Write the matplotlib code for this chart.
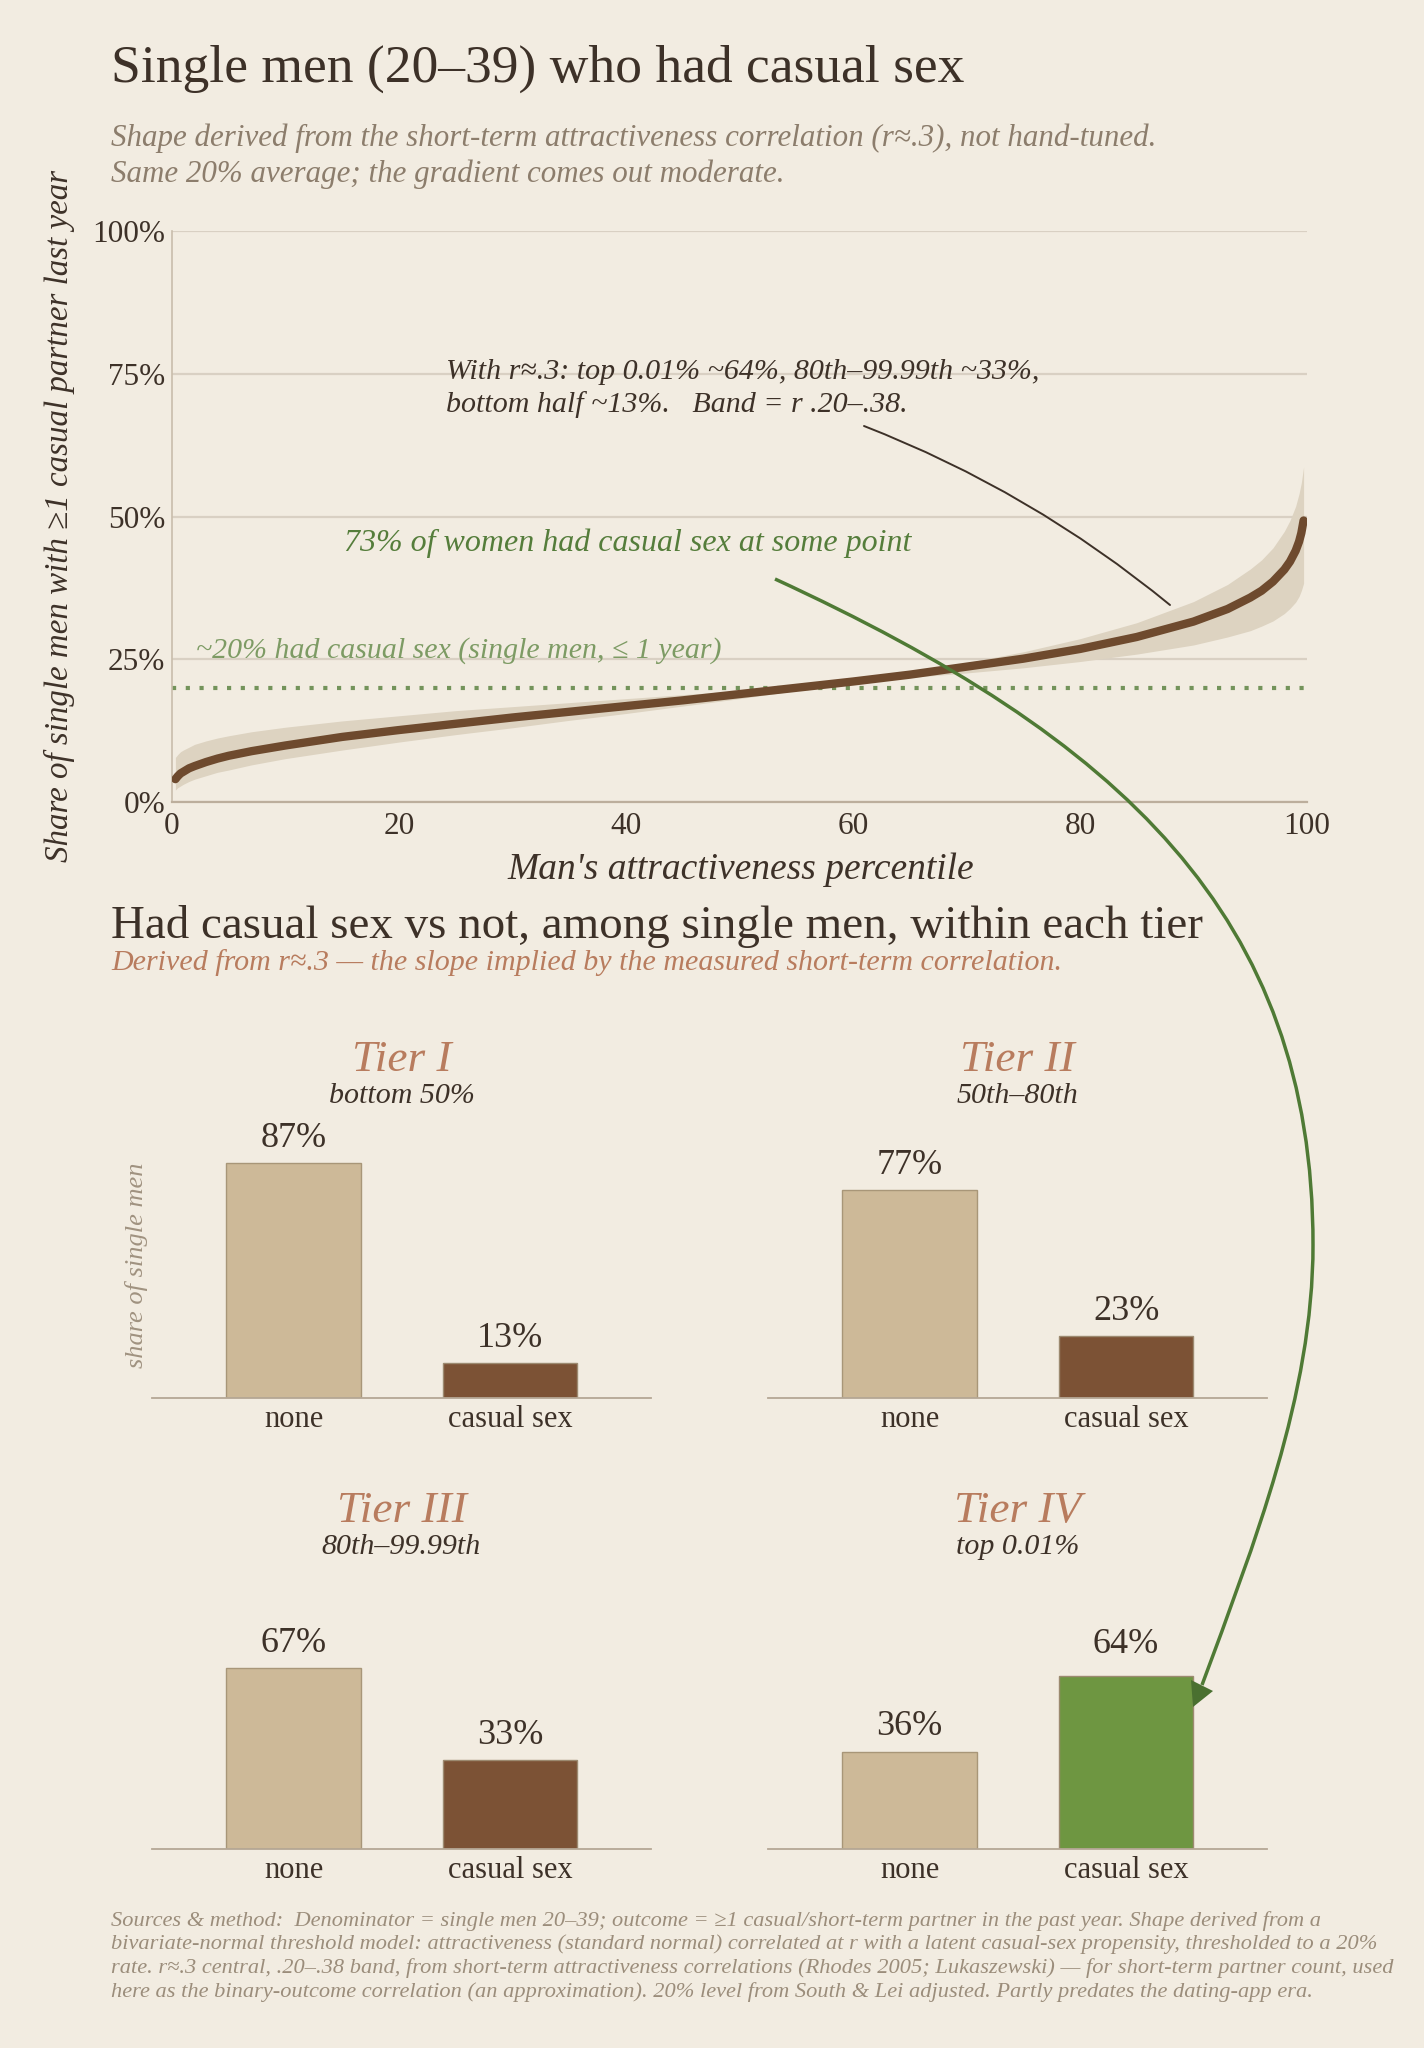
import matplotlib
matplotlib.use("Agg")
import matplotlib.pyplot as plt
from matplotlib.path import Path
from matplotlib.patches import PathPatch, Polygon

plt.rcParams['font.family'] = ['Liberation Serif', 'DejaVu Serif']

# curve (percentile -> % with casual partner)
pct = [0.3, 0.5, 0.75, 1, 1.5, 2, 3, 4, 5, 7, 10, 15, 20, 25, 30, 35, 40, 45, 50,
       55, 60, 65, 70, 75, 80, 85, 90, 93, 95, 96, 97, 98, 98.5, 99, 99.3, 99.5, 99.7]
central = [4.0, 4.5, 5.0, 5.3, 5.9, 6.3, 7.0, 7.6, 8.1, 8.9, 9.9, 11.4, 12.6, 13.7,
           14.8, 15.8, 16.8, 17.8, 18.9, 20.0, 21.1, 22.3, 23.7, 25.1, 26.8, 28.9,
           31.6, 33.8, 35.8, 37.0, 38.6, 40.7, 42.1, 44.0, 45.6, 47.1, 49.3]
band_lo = [2.1, 2.5, 2.8, 3.1, 3.6, 4.0, 4.6, 5.2, 5.6, 6.5, 7.6, 9.1, 10.5, 11.8,
           13.0, 14.3, 15.5, 16.8, 18.1, 19.5, 21.0, 21.8, 22.6, 23.5, 24.6, 25.9,
           27.5, 28.9, 30.0, 30.8, 31.7, 33.0, 33.9, 35.0, 36.0, 37.0, 38.3]
band_hi = [7.8, 8.3, 8.8, 9.1, 9.6, 10.1, 10.7, 11.2, 11.6, 12.3, 13.1, 14.2, 15.1,
           16.0, 16.7, 17.4, 18.1, 18.8, 19.5, 20.2, 21.0, 22.6, 24.4, 26.3, 28.6,
           31.4, 35.1, 38.1, 40.8, 42.4, 44.5, 47.4, 49.3, 51.8, 54.0, 55.9, 58.7]
avg_rate = 20

tiers = ["Tier I", "Tier II", "Tier III", "Tier IV"]
tier_ranges = ["bottom 50%", "50th\u201380th", "80th\u201399.99th", "top 0.01%"]
categories = ["none", "casual sex"]
none_share = [87, 77, 67, 36]
casual_share = [13, 23, 33, 64]

W, H = 1424, 2048
BG = '#f2ece1'
DARK = '#3d3128'
BROWN = '#6e4a2e'
BAND = '#ddd3c1'
GREEN = '#4f7a35'
LGREEN = '#7d9b64'
TERRA = '#b87c5e'
MUTED = '#8c7d6c'
NONE_C = '#cdb998'
CAS_C = '#7c5235'
TOP_C = '#6e9641'


def fx(x):
    return x / W


def fy(y):
    return 1 - y / H


fig = plt.figure(figsize=(W / 100, H / 100), dpi=100, facecolor=BG)

# ---- top chart ----
ax = fig.add_axes([fx(172), fy(802), (1307 - 172) / W, (802 - 231) / H])
ax.set_facecolor(BG)
ax.fill_between(pct, band_lo, band_hi, color=BAND, lw=0, zorder=2)
ax.plot(pct, central, color=BROWN, lw=6, solid_capstyle='round',
        solid_joinstyle='round', zorder=3)
ax.axhline(avg_rate, color='#73935a', lw=3.0, ls=(0, (1, 2.3)), zorder=2)
ax.set_xlim(0, 100)
ax.set_ylim(0, 100)
ax.set_yticks([0, 25, 50, 75, 100])
ax.set_yticklabels(["0%", "25%", "50%", "75%", "100%"])
ax.set_xticks([0, 20, 40, 60, 80, 100])
ax.yaxis.grid(True, color='#d9d0c3', lw=1.6)
ax.set_axisbelow(True)
for s in ['top', 'right']:
    ax.spines[s].set_visible(False)
ax.spines['left'].set_color('#c9bdac')
ax.spines['left'].set_linewidth(1.2)
ax.spines['bottom'].set_color('#bcae9c')
ax.spines['bottom'].set_linewidth(1.6)
ax.tick_params(length=0, labelsize=22.5, colors=DARK, pad=5)
ax.tick_params(axis='x', pad=7)

fig.text(fx(196), fy(651), "~20% had casual sex (single men, \u2264 1 year)", color=LGREEN,
         fontsize=21.5, style='italic', va='center')
fig.text(fx(741), fy(870), "Man's attractiveness percentile", fontsize=27,
         style='italic', color=DARK, ha='center', va='center')
fig.text(fx(59), fy(516), "Share of single men with \u22651 casual partner last year",
         fontsize=23.8, style='italic', color=DARK, rotation=90,
         ha='center', va='center')

# titles
fig.text(fx(111), fy(69), "Single men (20\u201339) who had casual sex", fontsize=38.5,
         color=DARK, va='center')
fig.text(fx(111), fy(138),
         "Shape derived from the short-term attractiveness correlation (r\u2248.3), not hand-tuned.",
         fontsize=22.3, style='italic', color=MUTED, va='center')
fig.text(fx(111), fy(174), "Same 20% average; the gradient comes out moderate.",
         fontsize=22.3, style='italic', color=MUTED, va='center')

# annotations
fig.text(fx(446), fy(372), "With r\u2248.3: top 0.01% ~64%, 80th\u201399.99th ~33%,",
         fontsize=21.6, style='italic', color=DARK, va='center')
fig.text(fx(446), fy(405), "bottom half ~13%.   Band = r .20\u2013.38.",
         fontsize=21.6, style='italic', color=DARK, va='center')
fig.text(fx(344), fy(543), "73% of women had casual sex at some point",
         fontsize=23, style='italic', color='#557d3b', va='center')
ax.annotate("", xy=(1170, H - 605), xycoords='figure pixels',
            xytext=(864, H - 426), textcoords='figure pixels',
            arrowprops=dict(arrowstyle='-', color=DARK, lw=1.4,
                            connectionstyle='arc3,rad=-0.08',
                            shrinkA=0, shrinkB=0))

# ---- tier panels ----
fig.text(fx(111), fy(927), "Had casual sex vs not, among single men, within each tier",
         fontsize=33.8, color=DARK, va='center')
fig.text(fx(111), fy(963),
         "Derived from r\u2248.3 \u2014 the slope implied by the measured short-term correlation.",
         fontsize=21.6, style='italic', color=TERRA, va='center')

lefts = [152, 768, 152, 768]
bases = [1398, 1398, 1849, 1849]
for i in range(4):
    bx = fig.add_axes([fx(lefts[i]), fy(bases[i]), 499 / W, 270 / H])
    bx.set_facecolor('none')
    vals = [none_share[i], casual_share[i]]
    cols = [NONE_C, TOP_C if i == 3 else CAS_C]
    bars = bx.bar([0, 1], vals, width=0.62, color=cols,
                  edgecolor=['#a89678', '#9c8a70'], lw=1.0, zorder=2)
    for j, (b, v) in enumerate(zip(bars, vals)):
        off = 11 if (i == 3 and j == 1) else 6
        bx.annotate(f"{v}%", (b.get_x() + b.get_width() / 2, v),
                    xytext=(0, off), textcoords='offset points',
                    ha='center', va='bottom', fontsize=26, color=DARK)
    bx.set_xlim(-0.654, 1.651)
    bx.set_ylim(0, 100)
    bx.set_xticks([0, 1])
    bx.set_xticklabels(categories)
    bx.set_yticks([])
    for s in ['top', 'right', 'left']:
        bx.spines[s].set_visible(False)
    bx.spines['bottom'].set_color('#b5a795')
    bx.spines['bottom'].set_linewidth(1.3)
    bx.tick_params(length=0, labelsize=22, colors=DARK, pad=5)
    cx = lefts[i] + 249.5
    fig.text(fx(cx), fy(bases[i] - 338), tiers[i], fontsize=32.7, style='italic',
             color=TERRA, ha='center', va='center')
    fig.text(fx(cx), fy(bases[i] - 302), tier_ranges[i], fontsize=21.6,
             style='italic', color=DARK, ha='center', va='center')

fig.text(fx(137), fy(1265), "share of single men", fontsize=19, style='italic',
         color='#a09280', rotation=90, ha='center', va='center')

# green connector from the women note down to Tier IV
pts = [(775, 579), (1120, 738), (1313, 915), (1313, 1245),
       (1313, 1395), (1254, 1544), (1202, 1685)]
codes = [Path.MOVETO] + [Path.CURVE4] * 6
curve = PathPatch(Path([(fx(x), fy(y)) for x, y in pts], codes),
                  transform=fig.transFigure, fill=False, ec=GREEN, lw=2.5,
                  zorder=10)
fig.add_artist(curve)
head = Polygon([(fx(1191), fy(1680)), (fx(1213), fy(1691)), (fx(1193), fy(1707))],
               closed=True, transform=fig.transFigure, fc='#4a7030', ec='none',
               zorder=11)
fig.add_artist(head)

sources = ("Sources & method:  Denominator = single men 20\u201339; outcome = \u22651 casual/short-term partner in the past year. Shape derived from a\n"
           "bivariate-normal threshold model: attractiveness (standard normal) correlated at r with a latent casual-sex propensity, thresholded to a 20%\n"
           "rate. r\u2248.3 central, .20\u2013.38 band, from short-term attractiveness correlations (Rhodes 2005; Lukaszewski) \u2014 for short-term partner count, used\n"
           "here as the binary-outcome correlation (an approximation). 20% level from South & Lei adjusted. Partly predates the dating-app era.")
fig.text(fx(111), fy(1911), sources, fontsize=16.15, style='italic', color='#9b8d7b',
         va='top', linespacing=1.25)

fig.savefig("out.png", dpi=100, facecolor=BG)
